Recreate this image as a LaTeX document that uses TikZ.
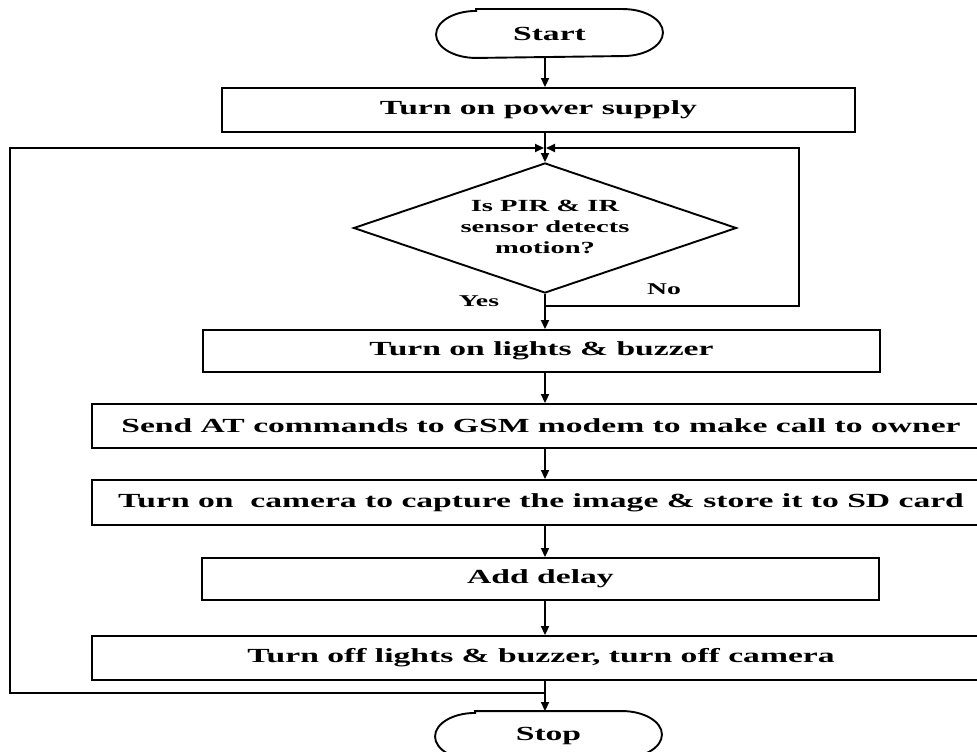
\documentclass[tikz,border=0pt]{standalone}
\usepackage{fontspec}
\setmainfont{Liberation Serif}
\usetikzlibrary{arrows.meta,shapes.geometric}
\newcommand{\hs}[1]{\scalebox{1.68}[1]{#1}}
\newcommand{\termoutline}[1]{%
  \draw ([xshift=40pt]#1.north west) -- ([xshift=-40pt]#1.north east)
    arc[start angle=90,end angle=-90,x radius=40pt,y radius=23.5pt]
    -- ([xshift=40pt]#1.south west)
    arc[start angle=270,end angle=90,x radius=40pt,y radius=23.5pt] -- cycle;}
\begin{document}
\begin{tikzpicture}[x=1pt,y=-1pt,
  line width=1.9pt,
  every node/.style={font=\fontsize{20}{23}\selectfont\bfseries},
  box/.style={draw, rectangle, inner sep=0pt},
  term/.style={inner sep=0pt, minimum width=225pt, minimum height=47pt},
  dec/.style={draw, diamond, aspect=2.9, inner sep=0pt, minimum width=383pt, minimum height=130pt, font=\fontsize{17}{21}\selectfont\bfseries},
  arr/.style={-{Triangle[length=9pt,width=8pt]}},
  lbl/.style={font=\fontsize{16.5}{20}\selectfont\bfseries}
]
\useasboundingbox (0,0) rectangle (977,752);
\clip (0,0) rectangle (977,752);
\coordinate (m) at (545,0);
\node[term] (start) at (549.5,33.5) {\hs{Start}};
\termoutline{start}
\node[box, minimum width=633pt, minimum height=44pt] (power) at (538.5,110) {\hs{Turn on power supply}};
\node[dec] (dec) at (545,228) {\raisebox{-3pt}{\hs{\begin{tabular}{@{}c@{}}Is PIR \& IR\\sensor detects\\motion?\end{tabular}}}};
\node[box, minimum width=677pt, minimum height=42pt] (lights) at (541.5,351) {\hs{Turn on lights \& buzzer}};
\node[box, minimum width=898pt, minimum height=44pt] (gsm) at (541,426) {\hs{Send AT commands to GSM modem to make call to owner}};
\node[box, minimum width=898pt, minimum height=45pt] (cam) at (541,502.5) {\hs{Turn on \ camera to capture the image \& store it to SD card}};
\node[box, minimum width=677pt, minimum height=42pt] (delay) at (540.5,579) {\hs{Add delay}};
\node[box, minimum width=898pt, minimum height=44pt] (final) at (541,658) {\hs{Turn off lights \& buzzer, turn off camera}};
\node[term] (stop) at (548.5,735.5) {\hs{Stop}};
\termoutline{stop}
\node[lbl] (yes) at (479,301) {\hs{Yes}};
\node[lbl] (no) at (664,289) {\hs{No}};
\coordinate (merge) at (545,148);
\coordinate (L1) at (10,148);
\coordinate (L2) at (10,693);
\coordinate (R1) at (799,148);
\coordinate (R2) at (799,306);
\coordinate (nb) at (545,306);
\coordinate (lb) at (545,693);
\draw[arr] (start.south -| m) -- (power.north -| m);
\draw[arr] (power.south -| m) -- (dec.north);
\draw[arr] (dec.south) -- (lights.north -| m);
\draw[arr] (nb) -- (R2) -- (R1) -- ([xshift=1pt]merge);
\draw[arr] (lb) -- (L2) -- (L1) -- ([xshift=-1pt]merge);
\draw[arr] (lights.south -| m) -- (gsm.north -| m);
\draw[arr] (gsm.south -| m) -- (cam.north -| m);
\draw[arr] (cam.south -| m) -- (delay.north -| m);
\draw[arr] (delay.south -| m) -- (final.north -| m);
\draw[arr] (final.south -| m) -- (stop.north -| m);
\end{tikzpicture}
\end{document}
